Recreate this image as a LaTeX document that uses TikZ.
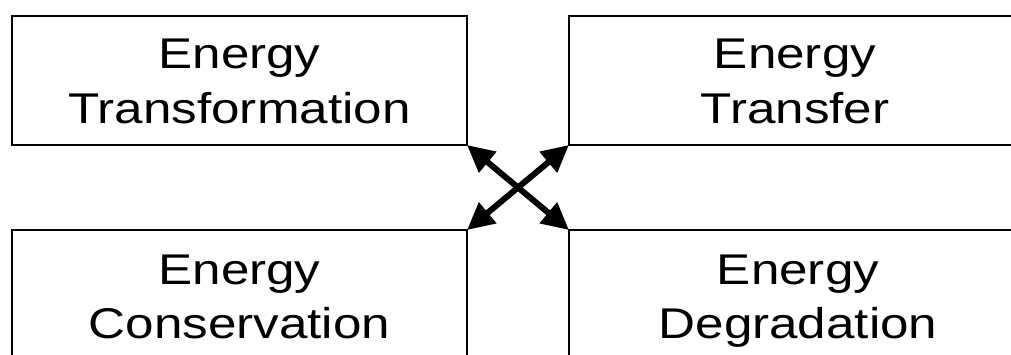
\documentclass[tikz,border=0pt]{standalone}
\usepackage{fontspec}
\newfontfamily\boxfont[FakeStretch=1.19]{Liberation Sans}
\usetikzlibrary{arrows.meta}
\begin{document}
\begin{tikzpicture}[x=1pt,y=-1pt,
  box/.style={draw=black, line width=1.5pt, rectangle, inner sep=0pt, outer sep=0pt},
  lbl/.style={anchor=base, font=\boxfont\fontsize{43}{55}\selectfont, inner sep=0pt},
  link/.style={line width=6pt, {Triangle[length=27pt,width=26pt]}-{Triangle[length=27pt,width=26pt]}}]
\useasboundingbox (0,0) rectangle (1011,354);
\node[box, minimum width=455pt, minimum height=129pt] (tl) at (239.5,80.5) {};
\node[box, minimum width=458pt, minimum height=129pt] (tr) at (798,80.5) {};
\node[box, minimum width=455pt, minimum height=150pt] (bl) at (239.5,305) {};
\node[box, minimum width=458pt, minimum height=150pt] (br) at (798,305) {};
\node[lbl] (tl1) at (239.5,68) {Energy};
\node[lbl] (tl2) at (239.5,123) {Transformation};
\node[lbl] (tr1) at (795,68) {Energy};
\node[lbl] (tr2) at (795,123) {Transfer};
\node[lbl] (bl1) at (239.5,284) {Energy};
\node[lbl] (bl2) at (239.5,338) {Conservation};
\node[lbl] (br1) at (798,284) {Energy};
\node[lbl] (br2) at (798,338) {Degradation};
\draw[link] (tl.south east) -- (br.north west);
\draw[link] (tr.south west) -- (bl.north east);
\end{tikzpicture}
\end{document}
